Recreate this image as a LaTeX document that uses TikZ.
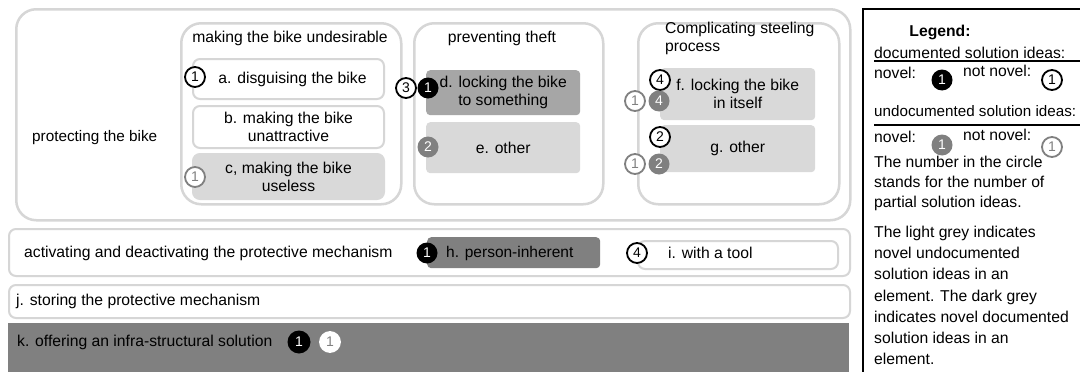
\documentclass[tikz,border=0pt]{standalone}
\usepackage{fontspec}
\setmainfont{Liberation Sans}
\definecolor{lgb}{HTML}{D6D6D6}
\definecolor{lgfill}{HTML}{D9D9D9}
\definecolor{midfill}{HTML}{A6A6A6}
\definecolor{dgrey}{HTML}{808080}
\begin{document}
\begin{tikzpicture}[x=1pt,y=-1pt,
  every node/.style={font=\fontsize{15.7}{18}\selectfont},
  outerbox/.style={draw=lgb, line width=2.5pt, rounded corners=20pt, fill=white, anchor=north west, inner sep=0pt},
  inbox/.style={draw=lgb, line width=2pt, rounded corners=7pt, anchor=north west, inner sep=0pt, align=center},
  plainbox/.style={rounded corners=4pt, anchor=north west, inner sep=0pt},
  lbl/.style={anchor=west, inner sep=0pt},
  num/.style={circle, minimum size=20pt, inner sep=0pt, line width=1.8pt, font=\fontsize{14}{14}\selectfont},
  docnot/.style={num, draw=black, fill=white, text=black},
  docnov/.style={num, fill=black, text=white, minimum size=21pt},
  undnot/.style={num, draw=dgrey, fill=white, text=dgrey},
  undnov/.style={num, fill=dgrey, text=white, minimum size=21pt}]
\useasboundingbox (0,0) rectangle (1080,372);
\fill[white] (0,0) rectangle (1080,372);

% protecting the bike
\node[outerbox, minimum width=834pt, minimum height=211pt] (prot) at (15,8) {};
\node[lbl, font=\fontsize{15.3}{18}\selectfont] (tprot) at (32,138) {protecting the bike};

% columns
\node[outerbox, minimum width=220pt, minimum height=181pt] (cundes) at (180,22) {};
\node[outerbox, minimum width=189pt, minimum height=181pt] (ctheft) at (413,22) {};
\node[outerbox, minimum width=201pt, minimum height=181pt] (ccompl) at (637,22) {};
\node (tundes) at (290,38) {making the bike undesirable};
\node (ttheft) at (502,38) {preventing theft};
\node[anchor=north west, inner sep=0pt, align=left] (tcompl) at (665,22) {Complicating steeling\\process};

% column 1
\node[inbox, fill=white, minimum width=191pt, minimum height=40pt] (a) at (192,58) {\hspace*{8pt}a. disguising the bike};
\node[inbox, fill=white, minimum width=191pt, minimum height=42pt] (b) at (192,105) {b. making the bike\\unattractive};
\node[inbox, draw=lgfill, fill=lgfill, minimum width=191pt, minimum height=45pt] (c) at (192,153) {c, making the bike\\useless};
\node[docnot] (na) at (195,77) {1};
\node[undnot] (nc) at (195,177) {1};

% column 2
\node[plainbox, fill=midfill, minimum width=154pt, minimum height=45pt, align=center] (d) at (426,70) {d. locking the bike\\to something};
\node[plainbox, fill=lgfill, minimum width=154pt, minimum height=51pt] (e) at (426,122) {e. other};
\node[docnot] (nd1) at (406,88) {3};
\node[docnov] (nd2) at (428,88) {1};
\node[undnov] (ne) at (428,147) {2};

% column 3
\node[plainbox, fill=lgfill, minimum width=155pt, minimum height=52pt, align=center] (f) at (660,68) {f. locking the bike\\in itself};
\node[plainbox, fill=lgfill, minimum width=155pt, minimum height=47pt] (g) at (660,125) {g. other};
\node[docnot] (nf1) at (660,80) {4};
\node[undnot] (nf2) at (635,101) {1};
\node[undnov] (nf3) at (659,101) {4};
\node[docnot] (ng1) at (660,137) {2};
\node[undnot] (ng2) at (635,164) {1};
\node[undnov] (ng3) at (659,164) {2};

% row 2
\node[inbox, fill=white, minimum width=841pt, minimum height=47pt] (r2) at (8,228) {};
\node[lbl] (tr2) at (24,253) {activating and deactivating the protective mechanism};
\node[plainbox, fill=dgrey, minimum width=173pt, minimum height=31pt] (h) at (427,237) {};
\node[lbl, font=\fontsize{15.5}{18}\selectfont] (th) at (446,253) {h. person-inherent};
\node[inbox, fill=white, minimum width=200pt, minimum height=28pt] (i) at (637,240) {};
\node[lbl] (ti) at (668,253) {i. with a tool};
\node[docnov] (nh) at (427,253) {1};
\node[docnot] (ni) at (637,253) {4};

% row j
\node[inbox, fill=white, minimum width=841pt, minimum height=33pt] (j) at (8,284) {};
\node[lbl] (tj) at (16,301) {j. storing the protective mechanism};

% row k
\node[fill=dgrey, anchor=north west, inner sep=0pt, minimum width=841pt, minimum height=60pt] (k) at (8,323) {};
\node[lbl] (tk) at (17,342) {k. offering an infra-structural solution};
\node[docnov, minimum size=23pt] (nk1) at (299,342) {1};
\node[undnot, draw=white] (nk2) at (330,342) {1};

% legend
\node[draw=black, line width=2pt, anchor=north west, inner sep=0pt, minimum width=240pt, minimum height=380pt] (leg) at (862,8) {};
\node[font=\fontsize{15.7}{18}\selectfont\bfseries] (lt) at (940,32) {Legend:};
\node[lbl] (ld) at (874,53) {documented solution ideas:};
\coordinate (u1a) at (874,61);
\coordinate (u1b) at (1080,61);
\draw[line width=1.5pt] (u1a) -- (u1b);
\node[lbl] (ln1) at (874,73) {novel:};
\node[docnov] (lc1) at (942,80) {1};
\node[lbl] (lnn1) at (963,71) {not novel:};
\node[docnot] (lc2) at (1052,80) {1};
\node[lbl, font=\fontsize{15.2}{18}\selectfont] (lu) at (874,111) {undocumented solution ideas:};
\coordinate (u2a) at (874,125);
\coordinate (u2b) at (1080,125);
\draw[line width=1.5pt] (u2a) -- (u2b);
\node[lbl] (ln2) at (874,137) {novel:};
\node[undnov] (lc3) at (942,145) {1};
\node[lbl] (lnn2) at (963,135) {not novel:};
\node[undnot] (lc4) at (1052,147) {1};
\node[anchor=north west, inner sep=0pt, align=left, font=\fontsize{15.7}{20}\selectfont] (p1) at (874,156) {The number in the circle\\stands for the number of\\partial solution ideas.};
\node[anchor=north west, inner sep=0pt, align=left, font=\fontsize{15.7}{21.2}\selectfont] (p2) at (874,226) {The light grey indicates\\novel undocumented\\solution ideas in an\\element. The dark grey\\indicates novel documented\\solution ideas in an\\element.};
\end{tikzpicture}
\end{document}
